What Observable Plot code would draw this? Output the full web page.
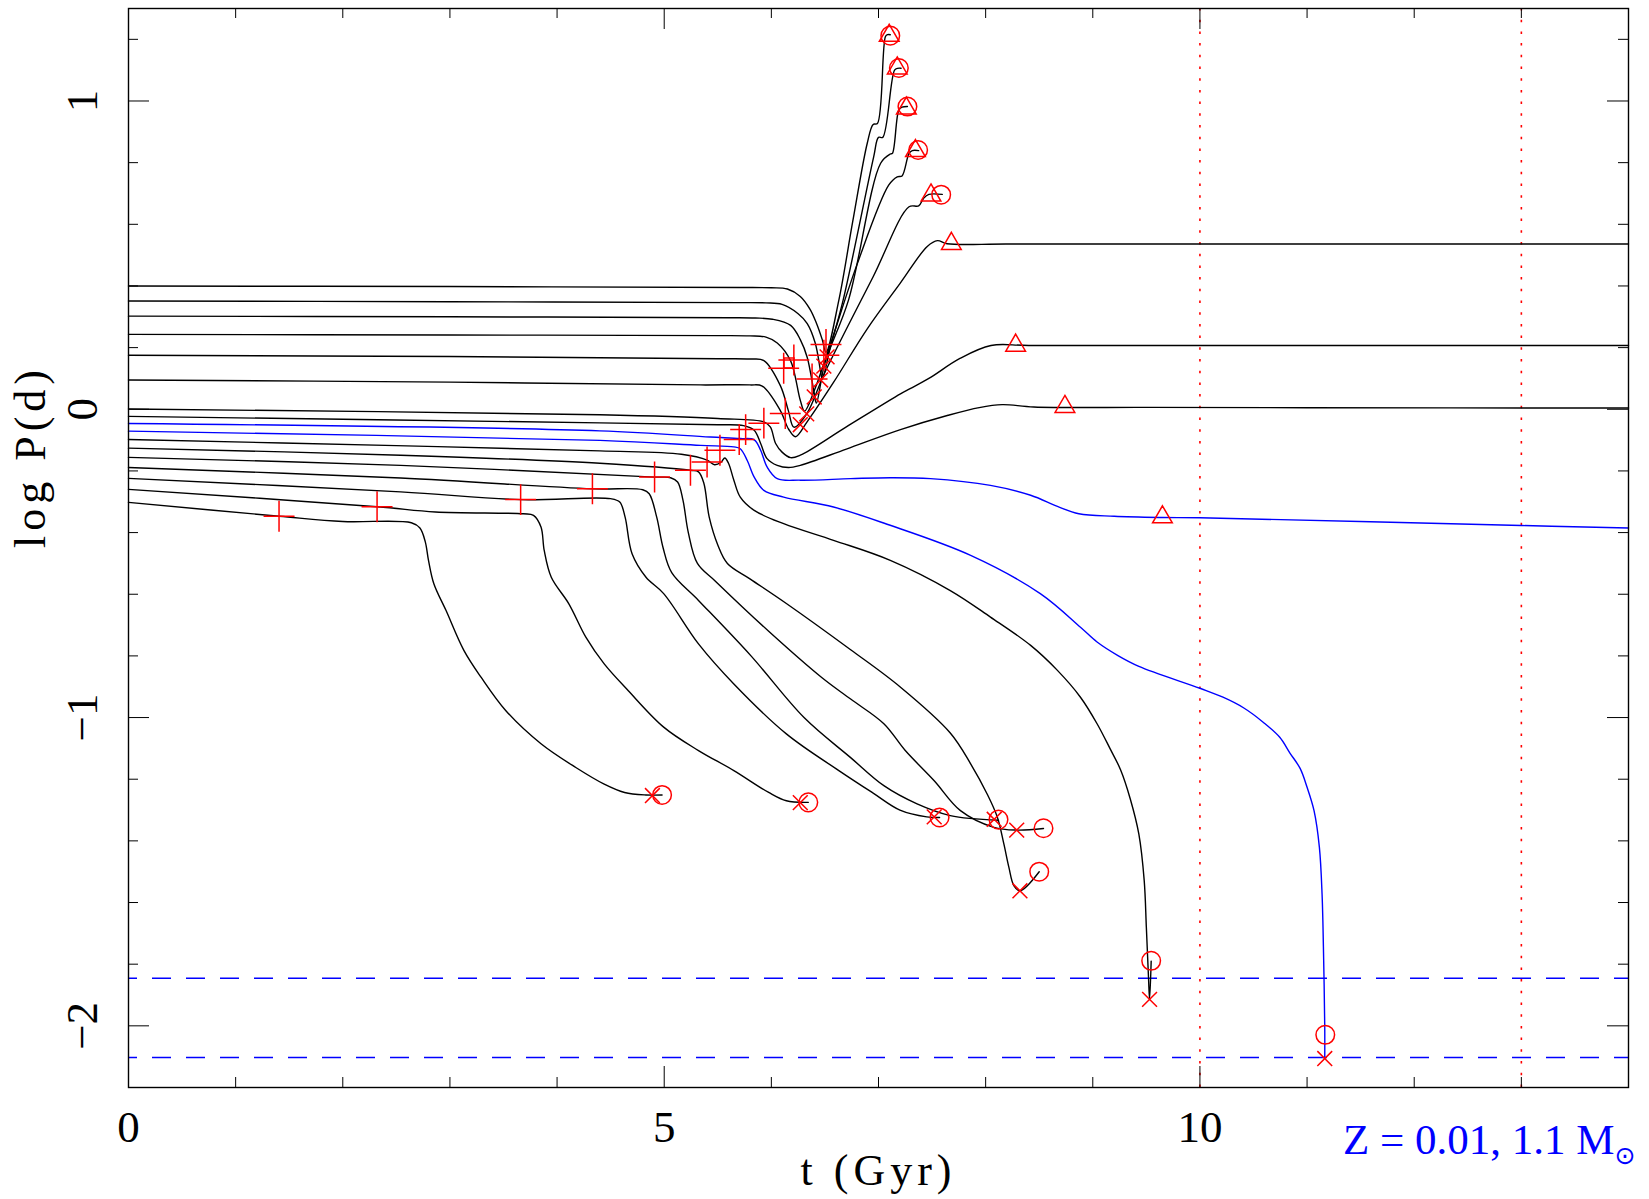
<!DOCTYPE html>
<html><head><meta charset="utf-8">
<script src="https://cdn.jsdelivr.net/npm/d3@7"></script>
<script src="https://cdn.jsdelivr.net/npm/@observablehq/plot@0.6"></script>
<style>body{margin:0;background:#fff}</style>
</head><body><div id="chart"></div>
<script>
// ---------- data: tracks [t (Gyr), log P (d)] ----------
const trackU1 = [[0,0.400],[3,0.398],[5.7,0.395],[6.0,0.394],[6.15,0.39],[6.27,0.366],[6.36,0.325],[6.42,0.28],[6.475,0.226],[6.51,0.185],[6.63,0.354],[6.76,0.61],[6.895,0.863],[6.95,0.924],[6.99,0.927],[7.065,1.209],[7.085,1.215],[7.11,1.215]];
const trackU2 = [[0,0.351],[3,0.349],[5.7,0.346],[5.95,0.345],[6.10,0.34],[6.25,0.31],[6.335,0.278],[6.41,0.214],[6.46,0.122],[6.475,0.098],[6.55,0.2],[6.67,0.354],[6.955,0.819],[7.0,0.882],[7.04,0.882],[7.15,1.10],[7.18,1.106],[7.21,1.106]];
const trackU3 = [[0,0.302],[3,0.300],[5.6,0.297],[5.85,0.296],[6.01,0.292],[6.18,0.272],[6.27,0.226],[6.335,0.168],[6.40,0.052],[6.42,0.02],[6.50,0.15],[6.72,0.354],[7.02,0.798],[7.11,0.828],[7.13,0.83],[7.19,0.971],[7.22,0.98],[7.27,0.982]];
const trackU4 = [[0,0.243],[3,0.241],[5.5,0.239],[5.8,0.238],[5.95,0.234],[6.055,0.215],[6.18,0.157],[6.27,0.029],[6.31,-0.006],[6.40,0.06],[6.55,0.21],[6.80,0.47],[7.095,0.727],[7.175,0.754],[7.22,0.757],[7.285,0.83],[7.315,0.839],[7.375,0.839]];
const trackU5 = [[0,0.175],[3,0.171],[5.5,0.164],[5.8,0.163],[5.93,0.158],[6.085,0.076],[6.16,-0.006],[6.21,-0.058],[6.33,-0.015],[6.5,0.12],[6.95,0.43],[7.285,0.657],[7.375,0.66],[7.42,0.684],[7.47,0.697],[7.595,0.697]];
const trackU6 = [[0,0.095],[3,0.088],[5.34,0.079],[5.8,0.079],[5.915,0.075],[6.085,-0.005],[6.16,-0.064],[6.225,-0.089],[6.335,-0.04],[6.58,0.087],[6.895,0.261],[7.205,0.41],[7.455,0.528],[7.55,0.547],[7.64,0.537],[8.2,0.536],[10,0.536],[14,0.536]];
const trackU7 = [[0,0.001],[4.4,-0.018],[5.5,-0.03],[5.93,-0.041],[5.99,-0.057],[6.04,-0.111],[6.10,-0.139],[6.18,-0.157],[6.27,-0.149],[6.7,-0.057],[7.205,0.05],[7.295,0.067],[7.47,0.10],[7.76,0.165],[8.05,0.207],[8.4,0.207],[10,0.207],[14,0.207]];
const trackU8 = [[0,-0.023],[4.4,-0.044],[5.5,-0.05],[5.74,-0.053],[5.84,-0.068],[5.90,-0.111],[5.96,-0.16],[6.055,-0.182],[6.16,-0.189],[6.27,-0.182],[6.7,-0.129],[7.205,-0.066],[7.65,-0.0195],[7.94,0.0055],[8.155,0.015],[8.45,0.0075],[9.5,0.006],[11,0.005],[14,0.004]];
const trackBlueUpper = [[0,-0.046],[4.4,-0.070],[5.43,-0.09],[5.71,-0.095],[5.84,-0.099],[5.90,-0.133],[5.96,-0.187],[6.055,-0.225],[6.27,-0.23],[6.74,-0.225],[7.11,-0.222],[7.485,-0.225],[8.045,-0.247],[8.42,-0.279],[8.67,-0.315],[8.87,-0.339],[9.2,-0.347],[9.65,-0.351],[10,-0.352],[13,-0.377],[14,-0.385]];
const trackBlueLower = [[0,-0.071],[4.4,-0.101],[5.34,-0.117],[5.65,-0.122],[5.71,-0.128],[5.775,-0.166],[5.84,-0.22],[5.93,-0.263],[6.115,-0.285],[6.58,-0.317],[7.08,-0.373],[7.86,-0.474],[8.51,-0.598],[8.885,-0.707],[9.04,-0.755],[9.235,-0.799],[9.43,-0.834],[10.0,-0.905],[10.215,-0.934],[10.41,-0.969],[10.59,-1.015],[10.745,-1.064],[10.84,-1.115],[10.935,-1.165],[11.0,-1.226],[11.065,-1.302],[11.115,-1.421],[11.14,-1.573],[11.155,-1.789],[11.165,-2.005],[11.165,-2.103]];
const trackD7 = [[0,-0.098],[2.5,-0.118],[4.4,-0.135],[5.16,-0.146],[5.40,-0.165],[5.47,-0.18],[5.53,-0.172],[5.565,-0.158],[5.60,-0.175],[5.65,-0.23],[5.71,-0.285],[5.84,-0.328],[6.115,-0.371],[6.58,-0.425],[7.11,-0.49],[7.67,-0.588],[8.045,-0.674],[8.42,-0.766],[8.67,-0.847],[8.885,-0.934],[9.04,-1.02],[9.16,-1.10],[9.26,-1.17],[9.35,-1.264],[9.43,-1.378],[9.48,-1.529],[9.50,-1.681],[9.52,-1.843],[9.53,-1.914],[9.545,-1.79]];
const trackD6 = [[0,-0.126],[2.54,-0.149],[4.4,-0.175],[5.245,-0.198],[5.32,-0.203],[5.37,-0.24],[5.42,-0.35],[5.50,-0.44],[5.59,-0.50],[5.8,-0.55],[6.14,-0.63],[6.74,-0.78],[7.2,-0.90],[7.67,-1.05],[7.86,-1.15],[8.014,-1.248],[8.11,-1.324],[8.17,-1.41],[8.217,-1.486],[8.263,-1.545],[8.32,-1.562],[8.50,-1.50]];
const trackD5 = [[0,-0.156],[2.54,-0.182],[4.91,-0.22],[5.06,-0.222],[5.125,-0.236],[5.175,-0.295],[5.225,-0.40],[5.31,-0.50],[5.485,-0.56],[5.975,-0.72],[6.47,-0.87],[6.74,-0.94],[7.05,-1.02],[7.25,-1.107],[7.52,-1.205],[7.765,-1.302],[8.076,-1.356],[8.29,-1.365],[8.54,-1.36]];
const trackD4 = [[0,-0.189],[2.54,-0.223],[4.33,-0.258],[4.80,-0.261],[4.86,-0.274],[4.93,-0.35],[4.99,-0.45],[5.07,-0.53],[5.32,-0.62],[5.81,-0.80],[6.305,-1.0],[6.74,-1.13],[7.05,-1.221],[7.36,-1.28],[7.67,-1.318],[8.12,-1.333]];
const trackD3 = [[0,-0.224],[2.54,-0.268],[3.66,-0.293],[4.50,-0.29],[4.585,-0.301],[4.635,-0.35],[4.70,-0.469],[4.83,-0.545],[4.995,-0.598],[5.32,-0.761],[5.65,-0.891],[6.14,-1.053],[6.63,-1.172],[6.95,-1.245],[7.2,-1.30],[7.45,-1.322],[7.57,-1.324]];
const trackD2 = [[0,-0.260],[2.32,-0.316],[2.865,-0.333],[3.685,-0.339],[3.78,-0.344],[3.85,-0.382],[3.88,-0.458],[3.946,-0.545],[4.11,-0.631],[4.27,-0.74],[4.44,-0.826],[4.665,-0.913],[4.995,-1.031],[5.32,-1.107],[5.65,-1.172],[5.975,-1.243],[6.14,-1.27],[6.345,-1.275]];
const trackD1 = [[0,-0.302],[1.405,-0.347],[2.0,-0.364],[2.64,-0.368],[2.72,-0.385],[2.77,-0.43],[2.80,-0.49],[2.85,-0.566],[2.964,-0.653],[3.13,-0.782],[3.29,-0.869],[3.52,-0.977],[3.85,-1.085],[4.175,-1.162],[4.44,-1.216],[4.63,-1.243],[4.83,-1.251],[4.98,-1.251]];

// ---------- data: markers ----------
const plusMarks = [[1.405,-0.347],[2.32,-0.316],[3.66,-0.293],[4.33,-0.258],[4.91,-0.22],[5.245,-0.198],[5.40,-0.171],[5.52,-0.133],[5.70,-0.098],[5.76,-0.066],[5.93,-0.045],[6.13,-0.014],[6.115,0.133],[6.21,0.16],[6.38,0.098],[6.49,0.175],[6.51,0.21]];
const squareMarks = [[6.165,0.15]];
const crossMarks = [[4.89,-1.253],[6.27,-1.276],[7.52,-1.322],[8.08,-1.330],[8.29,-1.365],[8.32,-1.562],[9.53,-1.914],[11.165,-2.106],[6.27,-0.05],[6.33,-0.015],[6.40,0.04],[6.46,0.095],[6.49,0.14],[6.52,0.17]];
const circleMarks = [[4.98,-1.251],[6.345,-1.275],[7.57,-1.324],[8.12,-1.331],[8.54,-1.359],[8.50,-1.50],[9.545,-1.789],[11.17,-2.029],[7.11,1.212],[7.19,1.107],[7.27,0.982],[7.37,0.841],[7.585,0.696]];
const triangleMarks = [[7.10,1.212],[7.175,1.106],[7.26,0.976],[7.345,0.838],[7.49,0.694],[7.68,0.537],[8.28,0.207],[8.74,0.008],[9.65,-0.35]];

// ---------- data: reference lines, ticks, labels ----------
const dashedLevels = [-1.846, -2.103];
const dottedTimes = [10, 13];
const xMinorTicks = [1,2,3,4,6,7,8,9,11,12,13];
const xMajorTicks = [0,5,10];
const yMinorTicks = [-2.2,-1.8,-1.6,-1.4,-1.2,-0.8,-0.6,-0.4,-0.2,0.2,0.4,0.6,0.8,1.2];
const yMajorTicks = [-2,-1,0,1];
const xTickLabels = [0,5,10];
const yTickLabels = [-2,-1,0,1];
const xTitle = "t (Gyr)";
const yTitle = "log P(d)";
const noteText = "Z = 0.01, 1.1 M";
const noteSub = "\u2299";

// ---------- build ----------
const blackTracks = {U1:trackU1,U2:trackU2,U3:trackU3,U4:trackU4,U5:trackU5,U6:trackU6,U7:trackU7,U8:trackU8,D1:trackD1,D2:trackD2,D3:trackD3,D4:trackD4,D5:trackD5,D6:trackD6,D7:trackD7};
const blueTracks = {BU:trackBlueUpper, BL:trackBlueLower};
const toRows = obj => Object.entries(obj).flatMap(([id, pts]) => pts.map(([t, p]) => ({id, t, p})));
const blackRows = toRows(blackTracks);
const blueRows = toRows(blueTracks);

const W = 1649, H = 1199, mL = 128, mR = 21, mT = 8, mB = 112;
const X0 = 0, X1 = 14, Y0 = -2.2, Y1 = 1.3;
const pxX = (W - mL - mR) / (X1 - X0), pxY = (H - mT - mB) / (Y1 - Y0);
const minorLen = 10, majorLen = 21;
const RED = "#ff0000", BLUE = "#0000ff";
const fmt = d => d < 0 ? "\u2212" + Math.abs(d) : String(d);
const mk = (data, symbol, r) => Plot.dot(data, {x: d => d[0], y: d => d[1], symbol, r, stroke: RED, fill: "none", strokeWidth: 1.5});

const chart = Plot.plot({
  width: W, height: H,
  marginLeft: mL, marginRight: mR, marginTop: mT, marginBottom: mB,
  x: {domain: [X0, X1], axis: null},
  y: {domain: [Y0, Y1], axis: null},
  style: {fontFamily: "'Liberation Serif', serif", background: "white", color: "black"},
  marks: [
    Plot.ruleY(dashedLevels, {y: d => d, stroke: BLUE, strokeWidth: 1.5, strokeDasharray: "19,15", strokeDashoffset: 10}),
    Plot.ruleX(dottedTimes, {x: d => d, stroke: RED, strokeWidth: 1.6, strokeDasharray: "2.5,9.2"}),
    Plot.line(blackRows, {x: "t", y: "p", z: "id", stroke: "black", strokeWidth: 1.4, curve: "catmull-rom"}),
    Plot.line(blueRows, {x: "t", y: "p", z: "id", stroke: BLUE, strokeWidth: 1.4, curve: "catmull-rom"}),
    mk(plusMarks, "plus", 10),
    mk(squareMarks, "square2", 6.4),
    mk(crossMarks, "times", 6.8),
    mk(circleMarks, "circle", 9.3),
    mk(triangleMarks, "triangle2", 9.4),
    Plot.frame({stroke: "black", strokeWidth: 1.4}),
    Plot.ruleX(xMinorTicks, {x: d => d, y1: Y0, y2: Y0 + minorLen / pxY, stroke: "black"}),
    Plot.ruleX(xMinorTicks, {x: d => d, y1: Y1, y2: Y1 - minorLen / pxY, stroke: "black"}),
    Plot.ruleX(xMajorTicks, {x: d => d, y1: Y0, y2: Y0 + majorLen / pxY, stroke: "black"}),
    Plot.ruleX(xMajorTicks, {x: d => d, y1: Y1, y2: Y1 - majorLen / pxY, stroke: "black"}),
    Plot.ruleY(yMinorTicks, {y: d => d, x1: X0, x2: X0 + minorLen / pxX, stroke: "black"}),
    Plot.ruleY(yMinorTicks, {y: d => d, x1: X1, x2: X1 - minorLen / pxX, stroke: "black"}),
    Plot.ruleY(yMajorTicks, {y: d => d, x1: X0, x2: X0 + majorLen / pxX, stroke: "black"}),
    Plot.ruleY(yMajorTicks, {y: d => d, x1: X1, x2: X1 - majorLen / pxX, stroke: "black"}),
    Plot.text(xTickLabels, {x: d => d, y: Y0, text: fmt, dy: 40, fontSize: 45, lineAnchor: "middle", fill: "black"}),
    Plot.text(yTickLabels, {x: X0, y: d => d, text: fmt, dx: -46, rotate: -90, fontSize: 45, lineAnchor: "middle", fill: "black"}),
    Plot.text([xTitle], {frameAnchor: "bottom", text: d => d, dy: 83, fontSize: 44, lineAnchor: "middle", fill: "black"}),
    Plot.text([yTitle], {frameAnchor: "left", text: d => d, dx: -98, rotate: -90, fontSize: 44, lineAnchor: "middle", fill: "black"}),
    Plot.text([noteText], {frameAnchor: "bottom-right", text: d => d, dx: -14, dy: 66, fontSize: 43, textAnchor: "end", lineAnchor: "bottom", fill: BLUE}),
    Plot.text([noteSub], {frameAnchor: "bottom-right", text: d => d, dx: 7, dy: 68, fontSize: 25, lineAnchor: "middle", fill: BLUE, fontFamily: "DejaVu Sans"})
  ]
});
chart.querySelectorAll("text").forEach(t => {
  if (t.textContent === xTitle || t.textContent === yTitle) t.setAttribute("letter-spacing", "5");
});
document.getElementById("chart").appendChild(chart);
</script>
</body></html>
